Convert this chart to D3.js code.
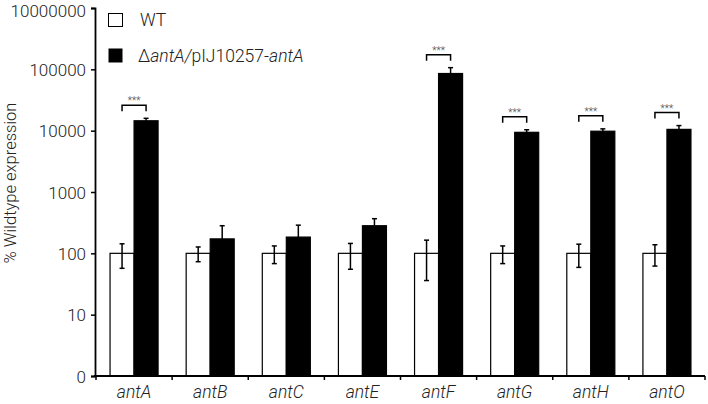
<!DOCTYPE html>
<html><head><meta charset="utf-8">
<script src="https://cdn.jsdelivr.net/npm/d3@7"></script>
<style>
body{margin:0;background:#fff;}
text{font-family:Roboto,"Liberation Sans",Arial,sans-serif;font-weight:300;}
</style></head>
<body><svg id="c" width="708" height="404"></svg>
<script>
const categories = ["antA","antB","antC","antE","antF","antG","antH","antO"];
const seriesNames = ["WT","mut"];
const wtValues = [100,100,100,100,100,100,100,100];
const wtErrors = [43,27,32,45,64,32,41,38];
const mutValues = [14500,172,184,282,85500,9400,9800,10500];
const mutErrors = [1400,110,104,85,21000,950,900,1600];
const significance = ["***","","","","***","***","***","***"];
const tickValues = [1,10,100,1000,10000,100000,1000000];
const tickLabels = ["0","10","100","1000","10000","100000","10000000"];

const svg = d3.select("#c");
const x = d3.scaleBand().domain(categories).range([96,705]);
const xs = d3.scaleBand().domain(seriesNames).range([0,x.bandwidth()]).paddingOuter(0.585).paddingInner(0);
const y = d3.scaleLog().domain([1,1e6]).range([376,8]);

// y axis
const yAxis = d3.axisLeft(y).tickValues(tickValues).tickFormat((d,i)=>tickLabels[i]).tickSizeOuter(0).tickSize(4);
const gy = svg.append("g").attr("transform","translate(95,0)").call(yAxis);
gy.select(".domain").attr("stroke","#000").attr("stroke-width",1.8);
gy.selectAll(".tick line").attr("stroke","#000").attr("stroke-width",1.5);
gy.selectAll(".tick text").attr("font-size",17).attr("fill","#222").attr("x",-9)
  .attr("dy",(d,i)=>i===tickValues.length-1?"0.5em":"0.36em")
  .style("font-family","Roboto,'Liberation Sans',sans-serif").style("font-weight",300);

// bars
const data = categories.map((c,i)=>({c, wt:wtValues[i], wtE:wtErrors[i], mut:mutValues[i], mutE:mutErrors[i], sig:significance[i]}));
const g = svg.append("g");
data.forEach(d=>{
  const x0 = x(d.c);
  g.append("rect").attr("x",x0+xs("WT")).attr("y",y(d.wt)).attr("width",xs.bandwidth()).attr("height",y(1)-y(d.wt))
    .attr("fill","#fff").attr("stroke","#000").attr("stroke-width",1.2);
  g.append("rect").attr("x",x0+xs("mut")).attr("y",y(d.mut)).attr("width",xs.bandwidth()).attr("height",y(1)-y(d.mut))
    .attr("fill","#000").attr("stroke","#000").attr("stroke-width",1.2);
  [["WT",d.wt,d.wtE],["mut",d.mut,d.mutE]].forEach(([s,v,e])=>{
    const cx = x0+xs(s)+xs.bandwidth()/2;
    const top = y(v+e), bot = y(Math.max(v-e,1));
    g.append("line").attr("x1",cx).attr("x2",cx).attr("y1",top).attr("y2",bot).attr("stroke","#000").attr("stroke-width",1.5);
    [top,bot].forEach(yy=>g.append("line").attr("x1",cx-2.5).attr("x2",cx+2.5).attr("y1",yy).attr("y2",yy).attr("stroke","#000").attr("stroke-width",1.5));
  });
  if(d.sig){
    const c1 = x0+xs("WT")+xs.bandwidth()/2, c2 = x0+xs("mut")+xs.bandwidth()/2;
    const by = y(d.mut+d.mutE)-13;
    g.append("path").attr("d",`M${c1},${by+6}V${by}H${c2}V${by+6}`).attr("fill","none").attr("stroke","#000").attr("stroke-width",1.5);
    g.append("text").attr("x",(c1+c2)/2).attr("y",by-1).attr("text-anchor","middle").attr("font-size",10).attr("fill","#444").text(d.sig);
  }
});

// x axis
const gx = svg.append("g").attr("transform","translate(0,376)");
gx.append("line").attr("x1",94).attr("x2",705).attr("y1",0).attr("y2",0).attr("stroke","#000").attr("stroke-width",1.8);
const bounds = categories.map(c=>x(c)).concat([x.range()[1]]);
gx.selectAll("line.t").data(bounds).enter().append("line").attr("class","t")
  .attr("x1",d=>d).attr("x2",d=>d).attr("y1",0).attr("y2",4).attr("stroke","#000").attr("stroke-width",1.5);
gx.selectAll("text").data(categories).enter().append("text")
  .attr("x",d=>x(d)+x.bandwidth()/2).attr("y",22).attr("text-anchor","middle")
  .attr("font-size",17.5).attr("font-style","italic").attr("fill","#222").text(d=>d);

// y label
svg.append("text").attr("transform","translate(16,183) rotate(-90)").attr("text-anchor","middle")
  .attr("font-size",16.5).attr("fill","#222").text("% Wildtype expression");

// legend
const lg = svg.append("g");
lg.append("rect").attr("x",108.5).attr("y",13.5).attr("width",14).attr("height",13).attr("fill","#fff").attr("stroke","#000").attr("stroke-width",1);
lg.append("text").attr("x",140).attr("y",26).attr("font-size",17.5).attr("fill","#222").text("WT");
lg.append("rect").attr("x",108.5).attr("y",48.5).attr("width",14).attr("height",14).attr("fill","#000");
const t2 = lg.append("text").attr("x",138).attr("y",62).attr("font-size",17.5).attr("fill","#222");
t2.append("tspan").text("\u0394");
t2.append("tspan").attr("font-style","italic").text("antA/");
t2.append("tspan").text("pIJ10257-");
t2.append("tspan").attr("font-style","italic").text("antA");
</script></body></html>
